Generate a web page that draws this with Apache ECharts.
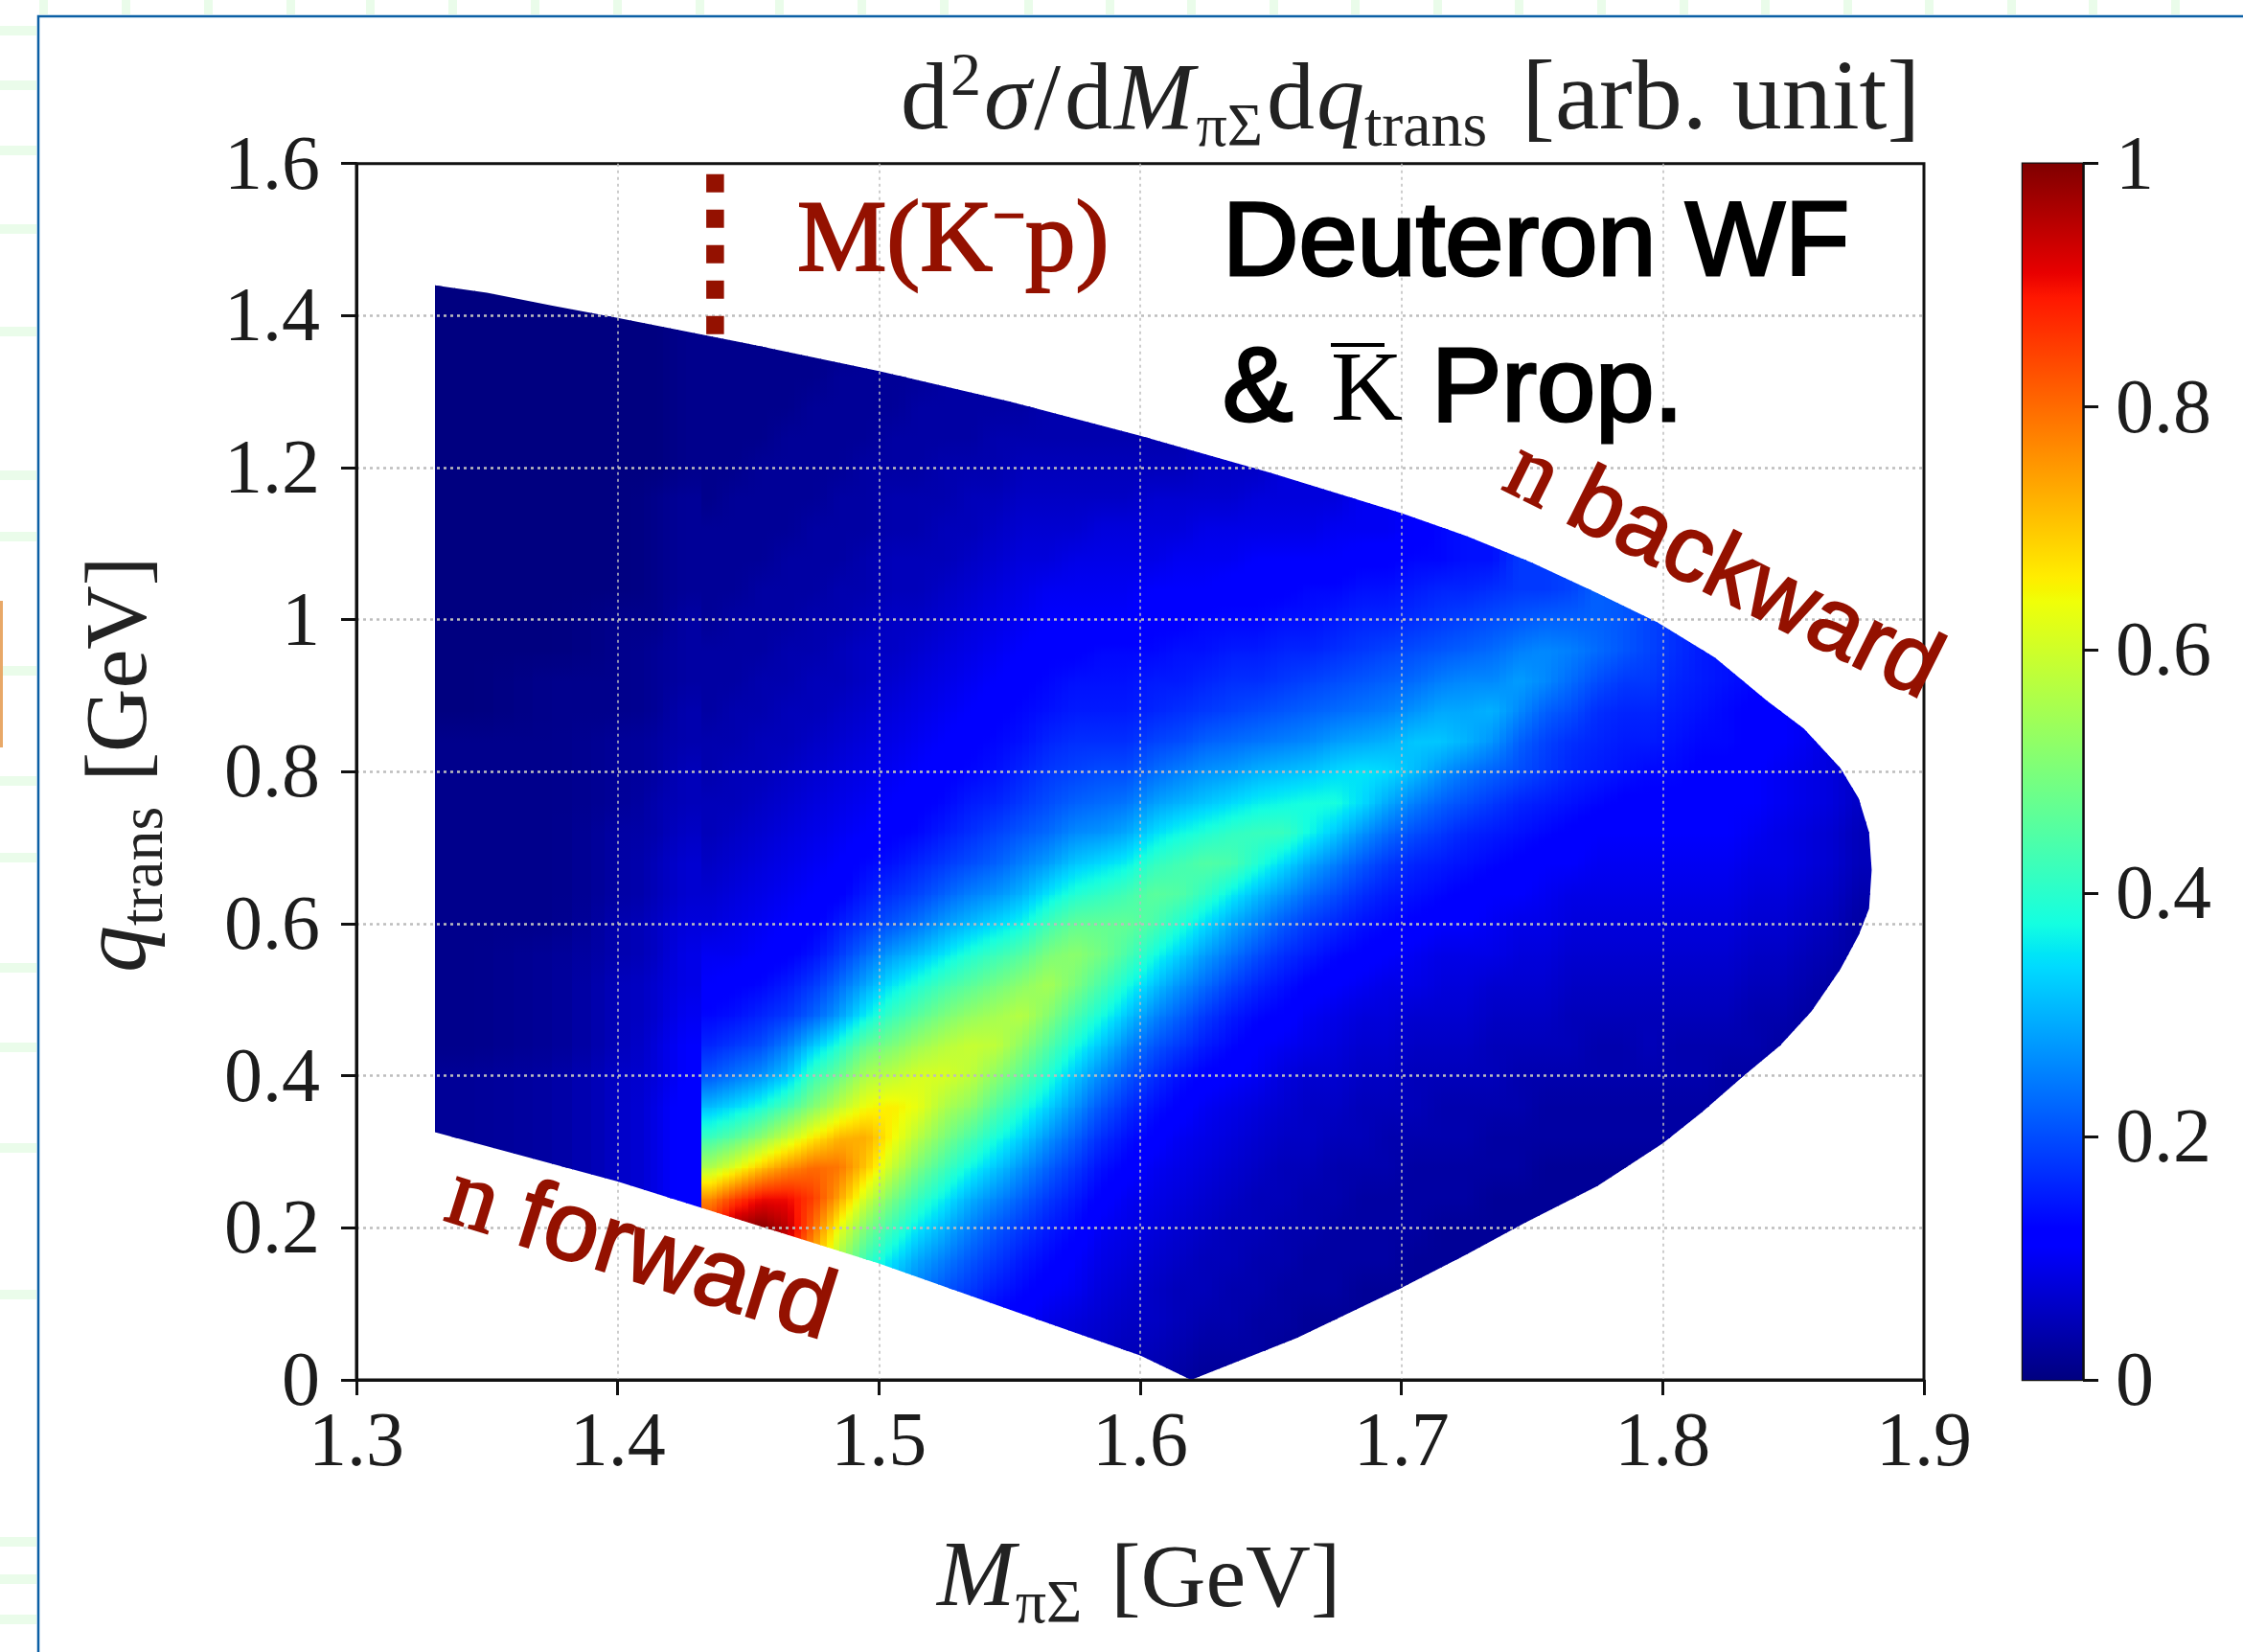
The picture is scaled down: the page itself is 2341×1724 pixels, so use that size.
<!DOCTYPE html>
<html><head><meta charset="utf-8">
<style>html,body{margin:0;padding:0;background:#fff}#c{width:2341px;height:1724px}</style>
<script src="https://cdn.jsdelivr.net/npm/echarts@6/dist/echarts.min.js"></script>
</head><body><div id="c"></div>
<script>
const xTicksRange=[1.3,1.9], yTicksRange=[0,1.6];
const rowStep=0.04;
// column edges of the table (GeV)
const columnEdges=[1.33,1.36,1.39,1.41,1.42,1.432,1.44,1.45,1.46,1.47,1.48,1.49,1.5,1.51,1.52,1.53,1.54,1.55,1.56,1.57,1.58,1.59,1.6,1.61,1.62,1.63,1.64,1.65,1.66,1.67,1.68,1.69,1.7,1.71,1.72,1.73,1.74,1.75,1.76,1.77,1.78,1.79,1.8,1.81,1.82,1.83,1.84,1.85,1.86,1.87,1.88];
// index of the first row (row*0.04 GeV) listed in each column
const rowStart=[8,7,6,6,5,5,5,5,4,4,4,3,3,3,3,2,2,2,1,1,1,0,0,0,0,0,0,1,1,2,2,2,3,3,4,4,5,5,6,6,7,7,8,8,9,10,11,12,13,14];
// percent of the colour scale, per column from rowStart upward
const heatValues=[
[2,2,2,1,1,1,1,1,1,1,1,1,1,1,0,0,0,0,0,0,0,0,0,0,0,0,0,0,0],
[3,3,3,3,2,2,2,2,1,1,1,1,1,1,1,1,1,0,0,0,0,0,0,0,0,0,0,0,0],
[6,6,6,6,6,5,5,5,4,4,3,3,3,2,2,2,1,1,1,1,0,0,0,0,0,0,0,0,0],
[9,9,9,9,8,8,7,7,6,6,5,5,4,4,3,3,2,2,2,1,1,1,1,1,0,0,0,0,0],
[11,12,12,12,12,11,11,10,9,9,8,7,7,6,5,5,4,4,3,3,3,2,2,2,2,1,1,1,1,1],
[88,76,56,42,31,21,16,13,11,10,8,7,6,5,5,4,4,3,3,3,2,2,2,2,1,1,1,1,1,1,1],
[98,84,62,46,34,24,18,14,12,10,9,8,7,6,5,5,4,4,3,3,3,2,2,2,2,1,1,1,1,1,1],
[100,90,70,52,38,27,20,16,13,11,10,9,8,7,6,5,5,4,4,3,3,3,2,2,2,2,1,1,1,1],
[88,95,90,76,59,44,32,25,18,15,12,11,10,9,8,7,6,5,5,4,4,3,3,3,2,2,2,2,1,1,1],
[72,80,85,80,66,51,42,32,22,18,14,12,11,10,9,8,7,6,5,5,4,4,3,3,3,2,2,2,2,1,1],
[55,63,74,79,72,58,48,39,28,23,18,15,12,11,10,9,8,7,6,5,5,4,4,3,3,3,2,2,2,2,1],
[38,42,50,60,70,73,64,56,47,36,29,23,18,15,13,11,10,9,8,7,6,6,5,4,4,3,3,3,2,2,2,2],
[30,35,42,50,59,65,66,58,50,42,35,28,21,17,14,12,11,10,9,8,7,6,6,5,5,4,4,3,3,2,2],
[25,29,35,42,50,57,63,61,54,46,39,31,24,19,16,13,12,11,10,9,8,7,6,5,5,4,4,3,3,3,2],
[21,25,30,36,43,50,56,61,57,50,43,35,28,22,18,15,13,12,11,10,9,8,7,6,5,5,4,4,3,3],
[15,18,21,25,30,37,44,52,58,59,53,46,39,31,25,20,17,15,13,12,11,10,9,8,7,6,5,5,4,3,3],
[12,15,18,21,26,32,38,45,52,58,55,49,42,34,27,22,19,16,14,13,12,11,10,9,8,7,6,5,4,4,3],
[11,13,15,18,22,27,33,39,46,52,57,52,45,37,30,25,21,18,16,14,13,12,11,10,9,8,7,6,5,4,3],
[8,9,11,13,15,18,22,27,33,39,45,51,55,50,43,35,28,23,20,18,16,14,13,12,11,10,8,7,6,5,4],
[7,8,10,11,13,15,18,22,27,32,38,44,50,52,47,39,32,26,22,19,17,15,14,12,11,10,9,7,6,5,4],
[6,7,8,9,10,12,14,17,21,26,32,38,44,49,47,41,34,27,23,20,17,15,14,13,11,10,9,8,6,5,4],
[5,5,6,7,8,9,10,12,14,17,21,26,32,38,44,47,43,36,29,24,20,17,15,14,13,11,10,9,8,6,5,4],
[4,5,6,6,7,8,9,10,12,14,17,21,26,32,38,44,46,41,34,28,23,19,16,15,13,12,11,9,8,7,5,4],
[3,4,5,5,6,7,8,9,10,12,14,18,22,27,33,39,45,43,37,30,25,20,17,15,14,12,11,10,8,7,5,4],
[2,3,4,5,5,6,7,8,9,10,12,15,18,23,28,34,41,45,39,32,27,22,18,16,14,13,11,10,9,7,6],
[2,3,4,4,5,5,6,7,8,9,11,13,15,19,24,29,36,44,41,34,28,23,19,17,15,13,12,10,9,7,6],
[2,3,3,4,4,5,5,6,7,8,10,11,13,16,20,25,31,39,42,36,30,24,20,17,15,13,12,11,9,8,6],
[2,3,3,4,4,5,5,6,7,8,10,12,14,17,21,27,34,42,37,31,25,21,18,16,14,12,11,9,8],
[2,2,3,3,4,4,5,6,6,7,9,10,12,15,18,23,29,37,38,32,26,22,19,16,14,13,11,9,8],
[2,3,3,3,4,4,5,6,7,8,9,11,13,16,20,25,32,38,34,28,23,20,17,15,13,11,10,8],
[2,2,3,3,3,4,5,5,6,7,8,10,12,14,17,21,27,34,35,29,24,21,18,16,14,12,10],
[2,2,3,3,3,4,4,5,6,7,8,9,11,13,15,18,23,29,34,30,25,22,19,16,14,12,10],
[2,2,3,3,3,4,5,5,6,7,9,10,12,14,16,20,25,31,32,27,23,20,17,15,13,11],
[2,2,2,3,3,4,4,5,6,7,8,9,11,13,15,18,22,27,32,29,25,21,18,16,13],
[2,2,3,3,4,4,5,6,7,8,9,11,12,14,16,20,24,30,29,26,22,19,16,14],
[2,2,2,3,3,4,5,5,6,7,9,10,11,13,15,18,22,27,30,26,23,20,17,14],
[2,2,3,3,4,4,5,6,7,8,9,11,12,14,16,20,22,26,28,25,21,18],
[2,2,2,3,3,4,5,6,7,8,9,10,11,13,15,18,19,22,26,26,22,18],
[2,2,3,3,4,5,5,6,7,8,9,11,12,14,16,17,20,23,25,22,19],
[2,2,3,3,4,4,5,6,7,8,9,10,11,13,15,16,17,20,23,22],
[2,3,3,4,4,5,6,7,8,9,10,11,12,14,15,16,18,21,21],
[2,3,3,4,5,5,6,7,8,9,10,11,12,13,15,16,18,19,19],
[3,3,4,4,5,6,7,8,9,10,11,12,13,14,15,16,17],
[3,3,4,4,5,6,7,8,9,10,11,12,12,13,14,15,15],
[3,3,4,5,6,7,8,9,10,11,11,12,13,13,14],
[3,4,4,5,6,7,8,9,10,11,11,12,12,13],
[3,4,5,6,7,8,9,9,10,10,11,11],
[3,4,5,6,7,8,8,9,9,10],
[3,4,5,6,7,7,8,8],
[3,3,4,5,5,6]
];
// outline of the filled region (GeV)
const upperEdge=[[1.33,1.44],[1.35,1.43],[1.375,1.413],[1.4,1.397],[1.45,1.363],[1.5,1.327],[1.55,1.287],[1.6,1.242],[1.65,1.193],[1.7,1.14],[1.725,1.11],[1.75,1.075],[1.775,1.035],[1.798,0.9965],[1.82,0.95],[1.84,0.893],[1.854,0.857],[1.868,0.805],[1.875,0.765],[1.879,0.72],[1.88,0.671]];
const lowerEdge=[[1.33,0.326],[1.4,0.261],[1.4324,0.226],[1.5,0.153],[1.567,0.072],[1.6,0.032],[1.6195,0],[1.66,0.055],[1.7,0.121],[1.725,0.165],[1.747,0.206],[1.775,0.255],[1.8,0.311],[1.815,0.352],[1.831,0.40],[1.845,0.44],[1.857,0.485],[1.868,0.54],[1.875,0.585],[1.879,0.62],[1.88,0.671]];
const kpX=[1.4373,1.4373], kpY=[1.586,1.374];
const colourStops=[[0,'#000080'],[0.11,'#0000ff'],[0.125,'#0000ff'],[0.34,'#00dbff'],[0.35,'#00e5f7'],[0.375,'#14ffe1'],[0.64,'#f0ff08'],[0.65,'#f7f500'],[0.66,'#ffed00'],[0.89,'#ff1700'],[0.91,'#e80000'],[1,'#800000']];
const topMarks=[45,131,217,303,386,472,558,644,730,813,899,985,1073,1158,1243,1329,1414,1500,1585,1671,1757,1842,1928,2013,2099,2184,2270];
const leftMarks=[32,89,157,239,346,496,560,700,815,895,1010,1093,1198,1351,1609,1648,1690];
const sharpEdgeColumn=5; // the value jumps at the left edge of this column

function hex(c){return [1,3,5].map(i=>parseInt(c.slice(i,i+2),16));}
function jet(v){
  v=Math.max(0,Math.min(1,v));
  for(let i=1;i<colourStops.length;i++){
    if(v<=colourStops[i][0]){
      const a=colourStops[i-1],b=colourStops[i],t=(v-a[0])/(b[0]-a[0]),A=hex(a[1]),B=hex(b[1]);
      return 'rgb('+A.map((p,k)=>Math.round(p+(B[k]-p)*t)).join(',')+')';
    }
  }
  return colourStops[colourStops.length-1][1];
}
function tableValue(i,r){
  const col=heatValues[i];
  const k=Math.max(0,Math.min(col.length-1,r-rowStart[i]));
  return col[k]/100;
}
const cells=[];
heatValues.forEach((col,i)=>{
  const prev=(i===0||i===sharpEdgeColumn)?i:i-1;
  const next=(i===heatValues.length-1||i+1===sharpEdgeColumn)?i:i+1;
  for(let r=rowStart[i]-1;r<=rowStart[i]+col.length;r++){
    if(r<0) continue;
    cells.push([columnEdges[i],columnEdges[i+1],r*rowStep,(r+1)*rowStep,
      tableValue(prev,r),tableValue(prev,r+1),tableValue(i,r),tableValue(i,r+1),tableValue(next,r),tableValue(next,r+1)]);
  }
});
const SERIF='"Liberation Serif"',SANS='"Liberation Sans"';
const mc=document.createElement('canvas').getContext('2d');
function fontOf(p){return (p.italic?'italic ':'')+p.size+'px '+(p.family||SERIF);}
function run(x,y,rot,pieces,fill,extra){
  let cx=0;const children=[];
  pieces.forEach(p=>{
    mc.font=fontOf(p);
    const w=mc.measureText(p.t).width;
    children.push({type:'text',x:cx,y:(p.dy||0)-0.34*p.size,z:20,style:Object.assign({text:p.t,fill:fill,font:fontOf(p),verticalAlign:'middle',align:'left'},extra||{})});
    cx+=w+(p.gap||0);
  });
  return {type:'group',x:x,y:y,rotation:rot,z:20,children:children};
}
const red='#941100';
const tickFont={fontFamily:SERIF,fontSize:80,color:'#1c1c1c'};
const shiftedTick={formatter:'{a|{value}}',rich:{a:{fontFamily:SERIF,fontSize:80,color:'#1c1c1c',padding:[10,0,0,0]}}};
const boldBlack={stroke:'#000',lineWidth:3};
const boldRed={stroke:red,lineWidth:2};
const graphics=[
  ...topMarks.map(x=>({type:'rect',shape:{x:x-4,y:0,width:9,height:15},style:{fill:'#eafcea'},z:0})),
  ...leftMarks.map(y=>({type:'rect',shape:{x:0,y:y-5,width:38,height:10},style:{fill:'#eafcea'},z:0})),
  {type:'rect',shape:{x:0,y:627,width:3,height:153},style:{fill:'#e8a868'},z:0},
  {type:'polyline',shape:{points:[[40,1724],[40,17],[2341,17]]},style:{stroke:'#0b5fa5',lineWidth:2.5,fill:null},z:1},
  run(940,142,0,[{t:'d',size:100,gap:2},{t:'2',size:64,dy:-38,gap:3},{t:'σ',size:100,italic:1,gap:3},{t:'/',size:100,gap:4},{t:'d',size:100,gap:2},{t:'M',size:100,italic:1,gap:2},{t:'πΣ',size:64,dy:15,gap:4},{t:'d',size:100,gap:2},{t:'q',size:100,italic:1},{t:'trans',size:66,dy:15,gap:36},{t:'[arb. unit]',size:104}],'#222'),
  run(978,1683,0,[{t:'M',size:98,italic:1},{t:'πΣ',size:64,dy:15,gap:30},{t:'[GeV]',size:94}],'#222'),
  run(159,1015,Math.PI/2,[{t:'q',size:98,italic:1},{t:'trans',size:64,dy:15,gap:26},{t:'[GeV]',size:92}],'#222'),
  run(832,290,0,[{t:'M(K',size:105},{t:'−',size:60,dy:-40},{t:'p)',size:105}],red,boldRed),
  run(1276,294,0,[{t:'Deuteron WF',size:110,family:SANS}],'#000',boldBlack),
  run(1276,446,0,[{t:'&',size:110,family:SANS}],'#000',boldBlack),
  run(1389,446,0,[{t:'K',size:104}],'#000'),
  {type:'rect',shape:{x:1389,y:358,width:56,height:4},style:{fill:'#000'},z:20},
  run(1494,446,0,[{t:'Prop.',size:110,family:SANS}],'#000',boldBlack),
  run(1562,516,-26.5*Math.PI/180,[{t:'n ',size:98},{t:'backward',size:98,family:SANS}],red,boldRed),
  run(459,1280,-17.4*Math.PI/180,[{t:'n ',size:102},{t:'forward',size:102,family:SANS}],red,boldRed)
];
const chart=echarts.init(document.getElementById('c'),null,{renderer:'canvas'});
const STRIPS=4;
chart.setOption({
  animation:false,
  backgroundColor:'#fff',
  graphic:{elements:graphics},
  grid:[
    {left:372,right:2341-2008,top:170.7,bottom:1724-1440,show:true,borderColor:'#111',borderWidth:3,backgroundColor:'transparent'},
    {left:2111,right:2341-2174,top:170.7,bottom:1724-1440,show:true,borderColor:'#111',borderWidth:2.5,backgroundColor:'transparent'}
  ],
  xAxis:[
    {type:'value',gridIndex:0,min:xTicksRange[0],max:xTicksRange[1],interval:0.1,z:5,
     axisLine:{onZero:false,lineStyle:{color:'#111',width:3}},axisTick:{length:16,lineStyle:{color:'#111',width:3}},
     axisLabel:Object.assign({margin:28,showMinLabel:true,showMaxLabel:true},tickFont),
     splitLine:{show:true,showMinLine:false,showMaxLine:false,lineStyle:{color:'#bdbdbd',width:1.5,type:[3,4]}}},
    {type:'value',gridIndex:1,min:0,max:1,show:false}
  ],
  yAxis:[
    {type:'value',gridIndex:0,min:yTicksRange[0],max:yTicksRange[1],interval:0.2,z:5,
     axisLine:{onZero:false,lineStyle:{color:'#111',width:3}},axisTick:{length:16,lineStyle:{color:'#111',width:3}},
     axisLabel:Object.assign({margin:38,showMinLabel:true,showMaxLabel:true},tickFont,shiftedTick),
     splitLine:{show:true,showMinLine:false,showMaxLine:false,lineStyle:{color:'#bdbdbd',width:2.5,type:[3,4]}}},
    {type:'value',gridIndex:1,position:'right',min:0,max:1,interval:0.2,z:5,
     axisLine:{onZero:false,lineStyle:{color:'#111',width:2.5}},axisTick:{length:16,lineStyle:{color:'#111',width:3}},
     axisLabel:Object.assign({margin:34,showMinLabel:true,showMaxLabel:true},tickFont,shiftedTick),
     splitLine:{show:false}}
  ],
  series:[
    {type:'custom',coordinateSystem:'cartesian2d',xAxisIndex:0,yAxisIndex:0,data:cells,progressive:0,silent:true,z:2,
     encode:{x:[0,1],y:[2,3]},clip:false,
     renderItem:function(params,api){
       const a=api.coord([api.value(0),api.value(2)]),b=api.coord([api.value(1),api.value(3)]);
       const pb=api.value(4),pt=api.value(5),cb=api.value(6),ct=api.value(7),nb=api.value(8),nt=api.value(9);
       const y0=Math.floor(b[1]),y1=Math.ceil(a[1]);
       const children=[];
       for(let s=0;s<STRIPS;s++){
         const u=(s+0.5)/STRIPS;
         // shading across the column, between this table column and its neighbour
         const mix=(p,c,n)=>u<0.5?p+(c-p)*(u+0.5):c+(n-c)*(u-0.5);
         const vb=mix(pb,cb,nb),vt=mix(pt,ct,nt);
         const stops=[];
         for(let t=0;t<=4;t++){stops.push({offset:t/4,color:jet(vt+(vb-vt)*t/4)});}
         const x0=Math.round(a[0]+(b[0]-a[0])*s/STRIPS),x1=Math.round(a[0]+(b[0]-a[0])*(s+1)/STRIPS);
         children.push({type:'rect',shape:{x:x0,y:y0,width:x1-x0+1,height:y1-y0+1},
           style:{fill:{type:'linear',x:0,y:0,x2:0,y2:1,colorStops:stops}}});
       }
       const pts=upperEdge.concat(lowerEdge.slice().reverse()).map(p=>api.coord(p));
       return {type:'group',children:children,clipPath:{type:'polygon',shape:{points:pts}}};
     }},
    {type:'line',xAxisIndex:0,yAxisIndex:0,data:kpX.map((x,i)=>[x,kpY[i]]),symbol:'none',silent:true,z:8,
     lineStyle:{color:red,width:18.5,type:[19,18],cap:'butt'}},
    {type:'custom',coordinateSystem:'cartesian2d',xAxisIndex:1,yAxisIndex:1,data:[[0,1,0,1]],silent:true,z:2,
     encode:{x:[0,1],y:[2,3]},
     renderItem:function(params,api){
       const a=api.coord([0,0]),b=api.coord([1,1]);
       const stops=colourStops.map(s=>({offset:1-s[0],color:s[1]})).reverse();
       return {type:'rect',shape:{x:a[0],y:b[1],width:b[0]-a[0],height:a[1]-b[1]},
         style:{fill:{type:'linear',x:0,y:0,x2:0,y2:1,colorStops:stops}}};
     }}
  ]
});
</script></body></html>
